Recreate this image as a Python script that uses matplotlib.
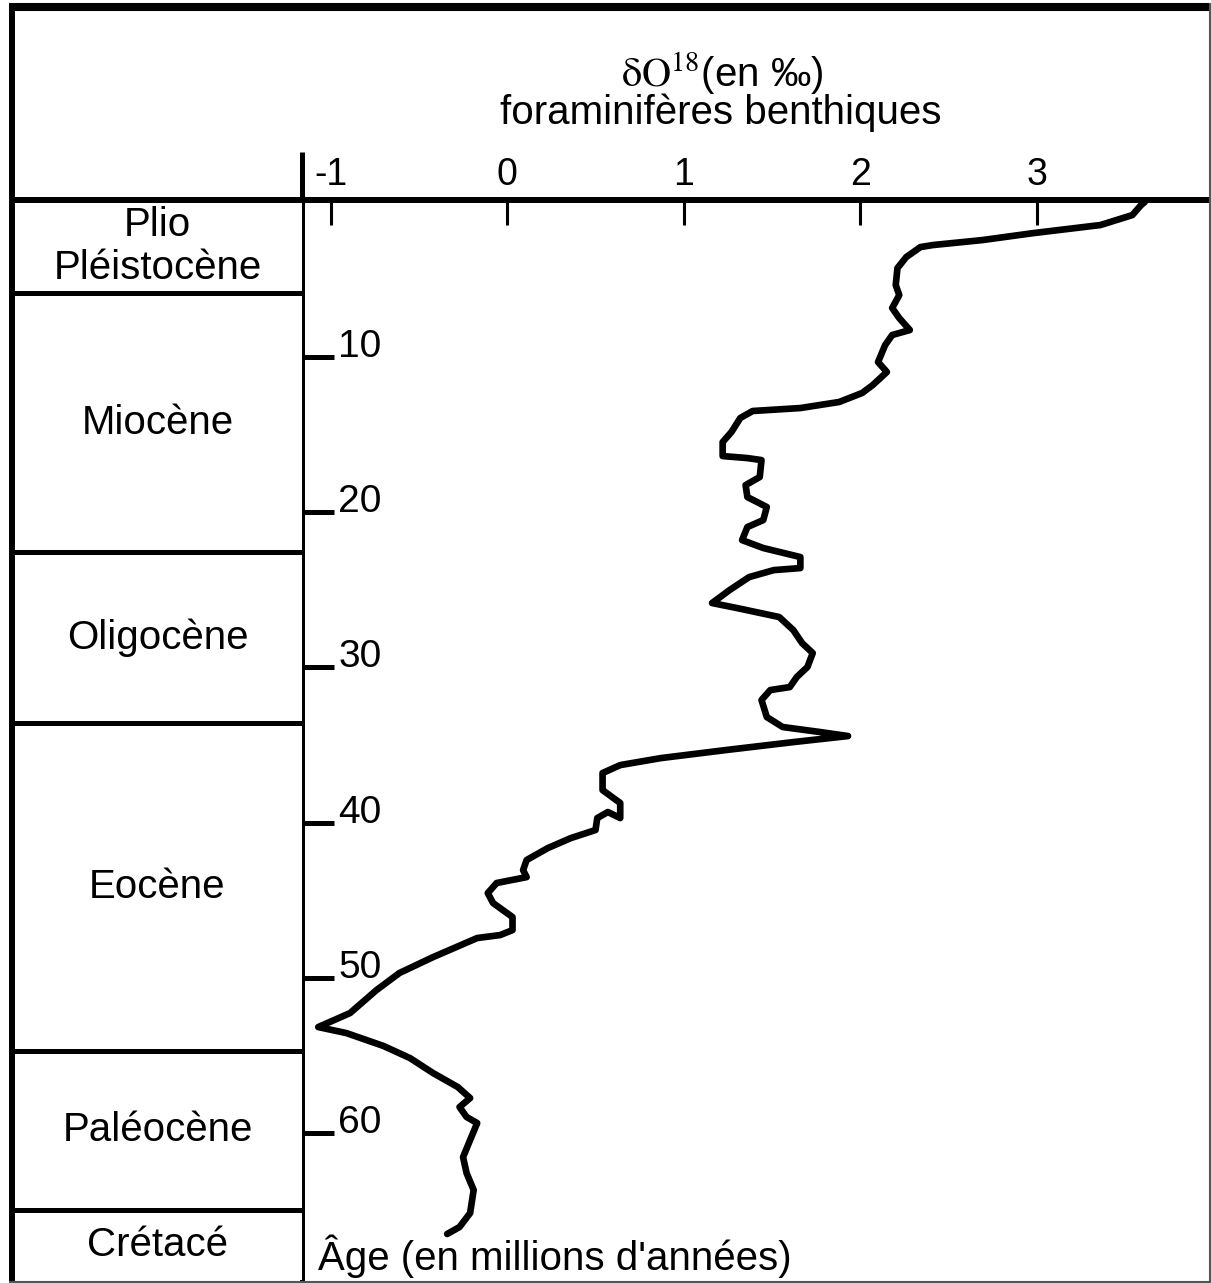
import matplotlib
matplotlib.use("Agg")
import matplotlib.pyplot as plt
from matplotlib.lines import Line2D

plt.rcParams['font.family'] = ['Liberation Sans', 'DejaVu Sans']
plt.rcParams['mathtext.fontset'] = 'stix'

# ---------------- data ----------------
d18O = [3.61, 3.59, 3.54, 3.36, 2.98, 2.69, 2.41, 2.34, 2.26, 2.21, 2.20, 2.22, 2.18,
        2.22, 2.28, 2.18, 2.14, 2.10, 2.15, 2.07, 2.01, 1.88, 1.66, 1.39, 1.32, 1.27,
        1.22, 1.22, 1.36, 1.44, 1.43, 1.35, 1.36, 1.47, 1.45, 1.36, 1.33, 1.45, 1.66,
        1.66, 1.51, 1.37, 1.26, 1.16, 1.30, 1.54, 1.62, 1.67, 1.73, 1.70, 1.64, 1.60,
        1.49, 1.44, 1.47, 1.56, 1.77, 1.93, 1.62, 1.24, 0.87, 0.64, 0.54, 0.54, 0.64,
        0.64, 0.57, 0.51, 0.50, 0.36, 0.23, 0.11, 0.09, 0.11, -0.06, -0.11, -0.08,
        0.03, 0.03, -0.04, -0.17, -0.42, -0.61, -0.74, -0.89, -1.07, -0.91, -0.70,
        -0.55, -0.42, -0.28, -0.21, -0.27, -0.23, -0.17, -0.21, -0.25, -0.23, -0.19,
        -0.21, -0.27, -0.34]
age_ma = [0.05, 0.24, 0.89, 1.53, 2.05, 2.50, 2.82, 2.95, 3.59, 4.30, 5.39, 6.04, 6.87,
          7.52, 8.29, 8.61, 9.26, 10.35, 10.99, 11.83, 12.34, 12.92, 13.31, 13.50, 13.95,
          14.85, 15.50, 16.40, 16.53, 16.66, 17.75, 18.27, 19.04, 19.68, 20.52, 20.97,
          21.81, 22.32, 22.90, 23.61, 23.74, 24.19, 25.02, 25.86, 26.18, 26.76, 27.60,
          28.44, 29.08, 29.98, 30.62, 31.27, 31.46, 32.10, 33.20, 33.84, 34.16, 34.42,
          34.81, 35.32, 35.84, 36.29, 36.80, 37.90, 38.73, 39.70, 39.31, 39.70, 40.47,
          40.99, 41.63, 42.40, 43.05, 43.50, 43.88, 44.53, 45.17, 46.07, 46.91, 47.23,
          47.42, 48.65, 49.67, 50.77, 52.25, 53.15, 53.54, 54.37, 55.15, 56.11, 57.01,
          57.72, 58.30, 58.94, 59.33, 60.42, 61.52, 62.55, 63.64, 65.12, 66.02, 66.47]

epoch_names = ['Plio\nPléistocène', 'Miocène', 'Oligocène', 'Eocène', 'Paléocène', 'Crétacé']
epoch_bounds = [5.9, 22.6, 33.6, 54.7, 64.9]

x_ticks = [-1, 0, 1, 2, 3]
age_ticks = [10, 20, 30, 40, 50, 60]

title_line1 = r'$\mathrm{\delta O}^{18}$(en ‰)'
title_line2 = 'foraminifères benthiques'
age_label = "Âge (en millions d'années)"

# ---------------- layout helpers ----------------
W, H = 1211, 1283
def fx(x):
    return x / W
def fy(y):
    return 1 - y / H

XLIM = (-1.162, 3.974)
YLIM = (69.43, -0.08)

fig = plt.figure(figsize=(W / 100, H / 100), dpi=100)
fig.patch.set_facecolor('white')

# main plot axes
ax = fig.add_axes([fx(302), fy(1280), (1209 - 302) / W, (1280 - 200) / H])
ax.set_xlim(*XLIM)
ax.set_ylim(*YLIM)
ax.plot(d18O, age_ma, color='black', lw=4.8, solid_joinstyle='round',
        solid_capstyle='round')

for s in ['right', 'bottom']:
    ax.spines[s].set_visible(False)
ax.spines['top'].set_linewidth(4.3)
ax.spines['left'].set_linewidth(3.6)

ax.xaxis.tick_top()
ax.set_xticks(x_ticks)
ax.set_xticklabels([str(v) for v in x_ticks])
ax.tick_params(axis='x', direction='in', length=18, width=2.2, pad=5,
               labelsize=27, colors='black')

ax.set_yticks(age_ticks)
ax.set_yticklabels([str(v) for v in age_ticks])
ax.tick_params(axis='y', direction='in', length=23, width=3.6, pad=-26,
               labelsize=28, colors='black')
plt.setp(ax.get_yticklabels(), ha='left', va='baseline')

ax.text(0.0176, 0.0093, age_label, transform=ax.transAxes, ha='left',
        va='baseline', fontsize=29)

# epoch column axes
axe = fig.add_axes([fx(13), fy(1280), (302 - 13) / W, (1280 - 200) / H])
axe.set_xlim(0, 1)
axe.set_ylim(*YLIM)
axe.set_xticks([])
axe.set_yticks([])
for s in ['left', 'right', 'bottom']:
    axe.spines[s].set_visible(False)
axe.spines['top'].set_linewidth(4.3)
for b in epoch_bounds:
    axe.axhline(b, color='black', lw=3.6)
edges = [YLIM[1]] + epoch_bounds + [YLIM[0]]
for name, a0, a1 in zip(epoch_names, edges[:-1], edges[1:]):
    axe.text(0.5, (a0 + a1) / 2, name, ha='center', va='center', fontsize=29,
             linespacing=1.15)

# header titles
fig.text(fx(722), fy(86), title_line1, ha='center', va='baseline', fontsize=29)
fig.text(fx(721), fy(124), title_line2, ha='center', va='baseline', fontsize=29)

# frame lines
def fline(x0, y0, x1, y1, lw, color='black'):
    fig.add_artist(Line2D([fx(x0), fx(x1)], [fy(y0), fy(y1)], lw=lw, color=color,
                          transform=fig.transFigure, solid_capstyle='butt'))

fline(9, 7, 1211, 7, 5.8)
fline(12, 3, 12, 1283, 4.3)
fline(1209.5, 3, 1209.5, 1282, 1.5, '#555555')
fline(9, 1281.5, 1211, 1281.5, 1.5, '#555555')
fline(302, 152, 302, 200, 3.6)

fig.savefig('out.png', dpi=100, facecolor='white')
